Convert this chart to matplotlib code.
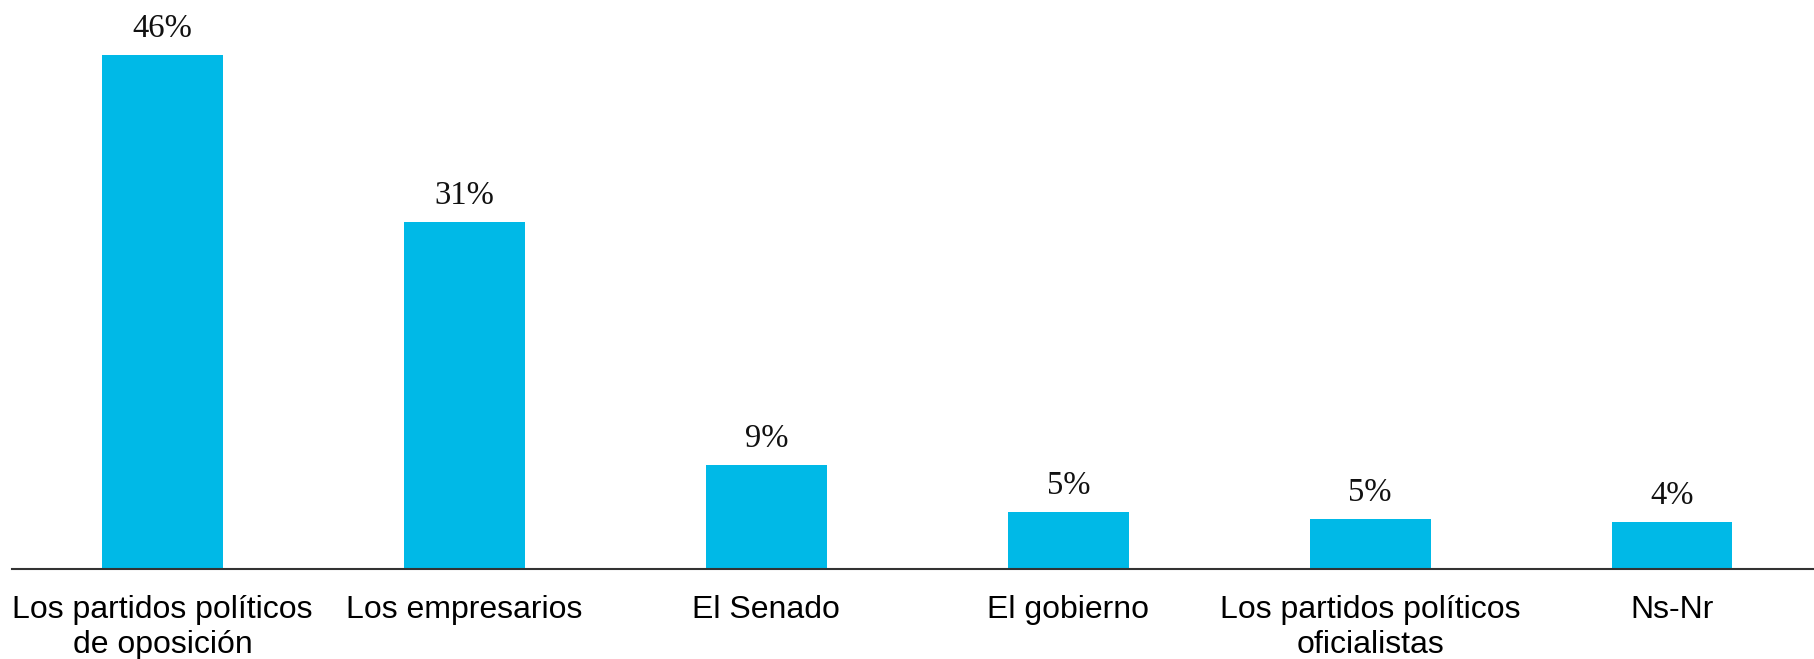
import matplotlib
matplotlib.use('Agg')
import matplotlib.pyplot as plt

# datos
categorias = ['Los partidos políticos\nde oposición', 'Los empresarios', 'El Senado',
              'El gobierno', 'Los partidos políticos\noficialistas', 'Ns-Nr']
valores = [46.0, 31.0, 9.3, 5.1, 4.5, 4.2]
etiquetas = ['46%', '31%', '9%', '5%', '5%', '4%']

COLOR_BARRA = '#00B9E7'

fig = plt.figure(figsize=(18.14, 6.59), dpi=100)
ax = fig.add_axes([0.0064, 0.1366, 0.9936, 0.8634])

x = range(len(categorias))
barras = ax.bar(x, valores, width=0.4, color=COLOR_BARRA, zorder=2)

for b, txt in zip(barras, etiquetas):
    ax.annotate(txt, (b.get_x() + b.get_width() / 2, b.get_height()),
                xytext=(0, 13), textcoords='offset points',
                ha='center', va='baseline', fontsize=23.5,
                family='Liberation Serif', color='#111111')

ax.set_xlim(-0.5, 5.47)
ax.set_ylim(0, 50.9)
ax.set_xticks(list(x))
ax.set_xticklabels(categorias, fontsize=23, family='Liberation Sans',
                   linespacing=1.22)
ax.tick_params(axis='x', length=0, pad=19)
ax.set_yticks([])

for s in ['top', 'right', 'left']:
    ax.spines[s].set_visible(False)
ax.spines['bottom'].set_color('#333333')
ax.spines['bottom'].set_linewidth(1.5)

fig.savefig('out.png', dpi=100)
